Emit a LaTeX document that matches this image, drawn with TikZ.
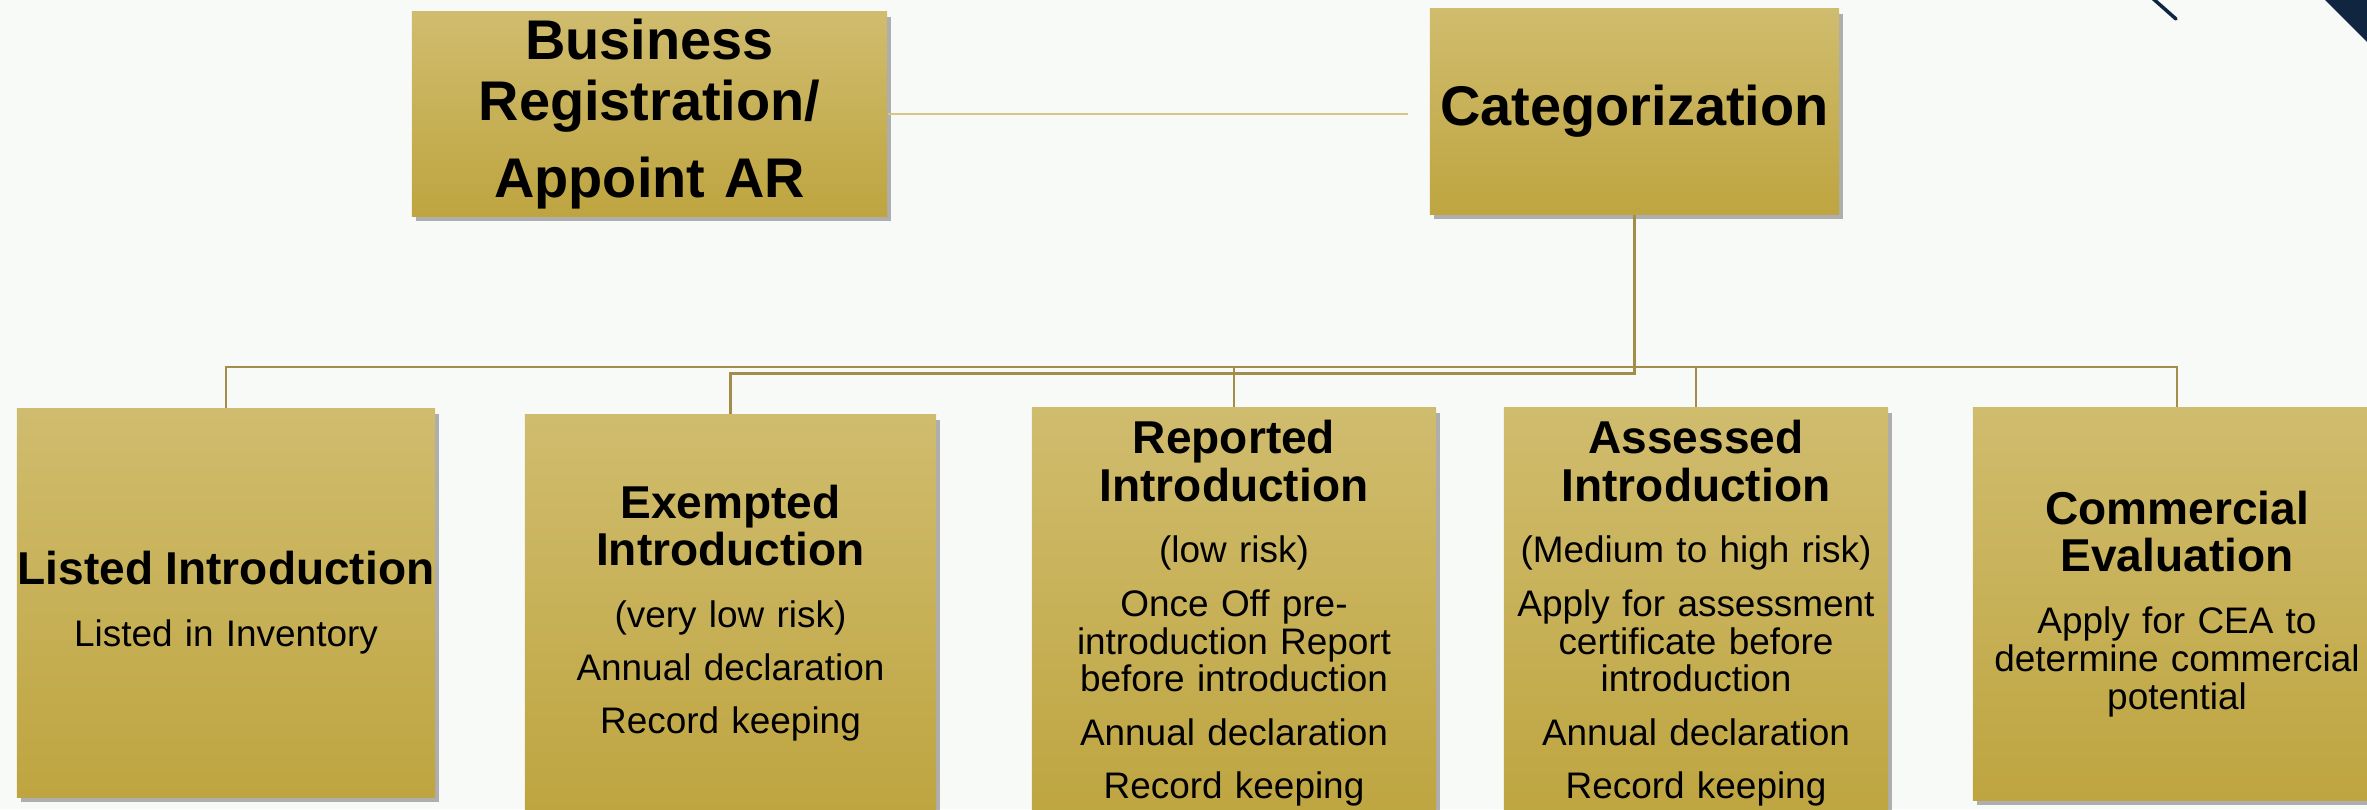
\documentclass[tikz,border=0pt]{standalone}
\usepackage{fontspec}
\setmainfont{Liberation Sans}
\usetikzlibrary{shadows}
\definecolor{goldtop}{RGB}{208,188,110}
\definecolor{goldbot}{RGB}{190,165,64}
\definecolor{linkgold}{RGB}{163,141,72}
\definecolor{paleline}{RGB}{214,197,135}
\definecolor{navy}{RGB}{15,37,64}
\definecolor{paper}{RGB}{248,250,248}
\setlength{\parindent}{0pt}
\newcommand\gap{\setlength{\parskip}{4.3pt}}
\newcommand\bigtitle{\fontsize{15.9pt}{17.6pt}\selectfont\bfseries\gap}
\newcommand\boxhead{\fontsize{13.1pt}{13.5pt}\selectfont\bfseries}
\newcommand\boxbody{\fontsize{10.5pt}{10.8pt}\selectfont\gap}
\newcommand\hd[1]{{\boxhead #1\par}\vspace{2.5pt}}

\begin{document}
\begin{tikzpicture}[x=0.01cm,y=-0.01cm]
  \tikzset{goldbox/.style={draw=none,top color=goldtop,bottom color=goldbot,
      drop shadow={shadow xshift=0.04cm,shadow yshift=-0.05cm,opacity=0.3,fill=black},
      inner sep=0pt,align=center,font=\boxbody},
    link/.style={draw=linkgold,line width=0.03cm},
    bus/.style={draw=linkgold,line width=0.02cm}}
  \useasboundingbox (0,0) rectangle (2367,809);
  \fill[paper] (0,0) rectangle (2367,809);
  \clip (0,0) rectangle (2367,809);

  % top row
  \node[goldbox,text width=4.75cm,minimum height=2.04cm,font=\bigtitle] (buz) at (649.5,114)
    {Business\\Registration/\par Appoint AR};
  \node[goldbox,text width=4.09cm,minimum height=2.05cm,font=\bigtitle] (cat) at (1634.5,111.5)
    {Categorization};

  % categories
  \node[goldbox,text width=4.18cm,minimum height=3.88cm] (listed) at (226,603)
    {\hd{Listed Introduction}Listed in Inventory};
  \node[goldbox,text width=4.11cm,minimum height=3.96cm] (exempt) at (730.5,613)
    {\hd{Exempted\\Introduction}(very low risk)\par Annual declaration\par Record keeping};
  \node[goldbox,text width=4.04cm,minimum height=4.10cm] (reported) at (1234,613)
    {\hd{Reported\\Introduction}(low risk)\par Once Off pre-\\introduction Report\\before introduction\par
     Annual declaration\par Record keeping};
  \node[goldbox,text width=3.84cm,minimum height=4.10cm] (assessed) at (1696,613)
    {\hd{Assessed\\Introduction}(Medium to high risk)\par Apply for assessment\\certificate before\\introduction\par
     Annual declaration\par Record keeping};
  \node[goldbox,text width=4.08cm,minimum height=3.92cm] (comm) at (2177,604)
    {\hd{Commercial\\Evaluation}Apply for CEA to\\determine commercial\\potential};

  % connectors
  \coordinate (upbus) at (0,367);
  \coordinate (lowbus) at (0,373);
  \coordinate (catin) at (1408,112);
  \draw[draw=paleline,line width=0.015cm] (buz.east) -- (buz.east -| catin);
  \draw[bus] (listed.north) |- (comm.north |- upbus) -- (comm.north);
  \foreach \n in {reported,assessed}
    \draw[bus] (\n.north) -- (\n.north |- upbus);
  \draw[link] (cat.south) |- (exempt.north |- lowbus) -- (exempt.north);

  % corner
  \fill[navy] (2325,0) -- (2367,0) -- (2367,42) -- cycle;
  \draw[navy,line width=0.035cm,line cap=round] (2150,-4) -- (2176,19);
\end{tikzpicture}
\end{document}
